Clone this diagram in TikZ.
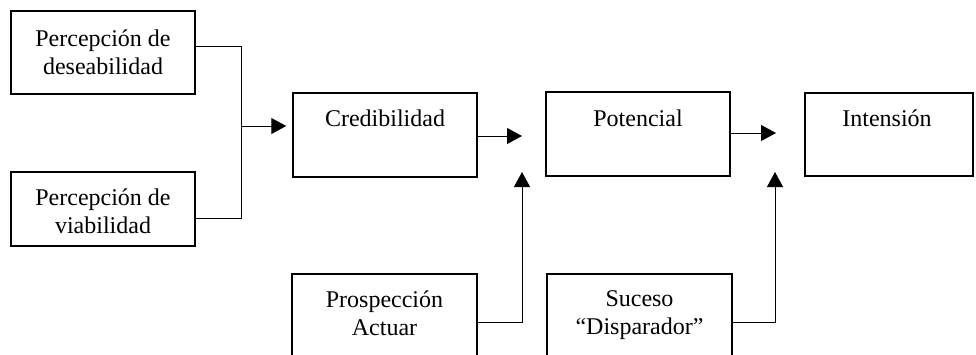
\documentclass[tikz,border=0pt]{standalone}
\usepackage{fontspec}
\setmainfont{Liberation Serif}
\usetikzlibrary{arrows.meta,calc}
\begin{document}
\begin{tikzpicture}[x=0.5pt,y=-0.5pt,
  box/.style={draw,line width=0.75pt,inner sep=0pt},
  txt/.style={font=\fontsize{12}{14}\selectfont,align=center,inner sep=0pt},
  conn/.style={line width=0.5pt},
  arr/.style={line width=0.5pt,-{Triangle[length=7.5pt,width=8pt]}}]
\useasboundingbox (0,0) rectangle (976,354);
\clip (0,0) rectangle (976,354);
% boxes
\node[box,minimum width=92pt,minimum height=41.5pt] (des) at (103,52.5) {};
\node[box,minimum width=92pt,minimum height=37pt] (via) at (103,209) {};
\node[box,minimum width=92pt,minimum height=42pt] (cred) at (385,135) {};
\node[box,minimum width=92pt,minimum height=42pt] (pot) at (638,134) {};
\node[box,minimum width=84pt,minimum height=41.5pt] (int) at (889,134.5) {};
\node[box,minimum width=92.5pt,minimum height=53pt] (pros) at (384.5,327) {};
\node[box,minimum width=92.5pt,minimum height=53pt] (suc) at (639.5,327) {};
% texts
\node[txt] (tdes) at (103,52) {Percepción de\\deseabilidad};
\node[txt] (tvia) at (103,211) {Percepción de\\viabilidad};
\node[txt] (tcred) at (385,118) {Credibilidad};
\node[txt] (tpot) at (638,118) {Potencial};
\node[txt] (tint) at (887,118) {Intensión};
\node[txt] (tpros) at (384.5,313) {Prospección\\Actuar};
\node[txt] (tsuc) at (639.5,315) {Suceso\\“Disparador”};
% connectors
\coordinate (jb) at (241,218);
\coordinate (jm) at (241,126);
\coordinate (m1) at (522,136);
\coordinate (u1) at (522,172);
\coordinate (m2) at (776,133);
\coordinate (u2) at (775,172);
\draw[conn] ([yshift=3.25pt]des.east) -| (jb) -- ([yshift=-4.5pt]via.east);
\draw[arr,shorten >=3pt] (jm) -- (jm -| cred.west);
\draw[arr] ([yshift=-0.5pt]cred.east) -- (m1);
\draw[arr] ([yshift=2.5pt]pros.east) -| (u1);
\draw[arr] ([yshift=0.5pt]pot.east) -- (m2);
\draw[arr] ([yshift=2.5pt]suc.east) -| (u2);
\end{tikzpicture}
\end{document}
